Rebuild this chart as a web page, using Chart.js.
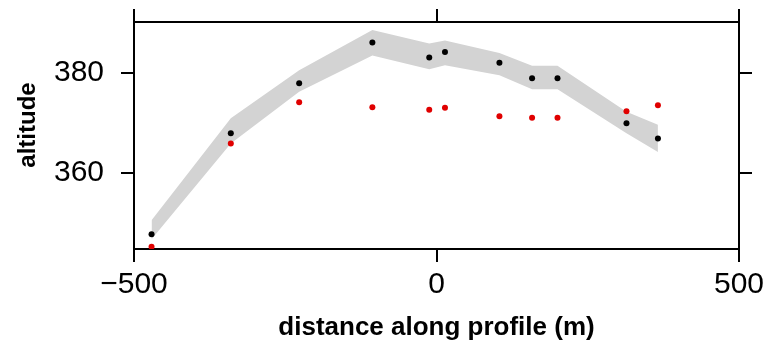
<!DOCTYPE html>
<html>
<head>
<meta charset="utf-8">
<script src="https://cdn.jsdelivr.net/npm/chart.js@4.4.1/dist/chart.umd.min.js"></script>
<style>
  html, body { margin: 0; padding: 0; background: #fff; }
</style>
</head>
<body>
<canvas id="chart" width="768" height="347"></canvas>
<script>
// distancia ao longo do perfil (m) e altitudes
const distance = [-471, -340, -227, -106, -12, 14, 104, 158, 200, 314, 366];
const altBlack = [347.8, 367.9, 377.9, 386.0, 383.0, 384.1, 382.0, 378.9, 378.9, 369.9, 366.9];
const altRed = [345.3, 365.9, 374.1, 373.1, 372.6, 373.0, 371.3, 371.0, 371.0, 372.3, 373.5];
const bandTop = [350.6, 370.9, 380.5, 388.5, 385.8, 386.4, 383.9, 381.4, 381.4, 372.2, 369.6];
const bandBottom = [346.8, 365.9, 376.2, 383.4, 380.7, 381.5, 379.5, 376.7, 376.7, 367.9, 364.2];
const xTicks = [-500, 0, 500];
const yTicks = [360, 380];

const FONT = "'Liberation Sans', Arial, sans-serif";

function pts(ys) {
    return distance.map((d, i) => ({ x: d, y: ys[i] }));
}

// tamanho fixo do eixo, sem padding extra dos rotulos
function fixedSize(size) {
    return function (scale) {
        if (scale.isHorizontal()) scale.height = size;
        else scale.width = size;
        scale.paddingLeft = 0;
        scale.paddingRight = 0;
        scale.paddingTop = 0;
        scale.paddingBottom = 0;
    };
}

function setTicks(values) {
    return function (scale) {
        scale.ticks = values.map(v => ({ value: v }));
    };
}

// sinal de menos de verdade, como no original
const minusLabel = v => String(v).replace('-', '\u2212');

// titulo do eixo y desenhado a mao (fica um pouco acima do centro)
const yTitlePlugin = {
    id: 'yTitle',
    afterDraw(chart) {
        const ctx = chart.ctx;
        ctx.save();
        ctx.translate(28, 125);
        ctx.rotate(-Math.PI / 2);
        ctx.font = 'bold 24px ' + FONT;
        ctx.fillStyle = '#000';
        ctx.textAlign = 'center';
        ctx.textBaseline = 'middle';
        ctx.fillText('altitude', 0, 0);
        ctx.restore();
    }
};

const gridOpts = { drawOnChartArea: false, drawTicks: true, tickLength: 13, color: '#000', lineWidth: 2 };
const borderOpts = { display: true, color: '#000', width: 2 };

new Chart(document.getElementById('chart'), {
    type: 'line',
    data: {
        datasets: [
            {
                label: 'black',
                data: pts(altBlack),
                showLine: false,
                pointRadius: 3,
                pointBackgroundColor: '#000',
                pointBorderWidth: 0
            },
            {
                label: 'red',
                data: pts(altRed),
                showLine: false,
                pointRadius: 3,
                pointBackgroundColor: '#e00000',
                pointBorderWidth: 0
            },
            {
                label: 'band bottom',
                data: pts(bandBottom),
                borderWidth: 0,
                pointRadius: 0,
                fill: false
            },
            {
                label: 'band top',
                data: pts(bandTop),
                borderWidth: 0,
                pointRadius: 0,
                backgroundColor: '#d3d3d3',
                fill: '-1'
            }
        ]
    },
    options: {
        responsive: false,
        devicePixelRatio: 1,
        animation: false,
        layout: { padding: 0 },
        plugins: { legend: { display: false }, tooltip: { enabled: false } },
        elements: { line: { tension: 0 } },
        scales: {
            x: {
                type: 'linear',
                position: 'bottom',
                min: -500,
                max: 500,
                afterBuildTicks: setTicks(xTicks),
                afterFit: fixedSize(98),
                grid: gridOpts,
                border: borderOpts,
                ticks: {
                    color: '#000', padding: 5, maxRotation: 0,
                    font: { family: FONT, size: 30 },
                    callback: minusLabel
                },
                title: {
                    display: true,
                    text: 'distance along profile (m)',
                    color: '#000',
                    padding: { top: 0, bottom: 4 },
                    font: { family: FONT, size: 26, weight: 'bold' }
                }
            },
            xTop: {
                type: 'linear',
                position: 'top',
                min: -500,
                max: 500,
                afterBuildTicks: setTicks(xTicks),
                afterFit: fixedSize(22),
                grid: gridOpts,
                border: borderOpts,
                ticks: { display: false }
            },
            y: {
                type: 'linear',
                position: 'left',
                min: 344.85,
                max: 390.1,
                afterBuildTicks: setTicks(yTicks),
                afterFit: fixedSize(134),
                grid: gridOpts,
                border: borderOpts,
                ticks: { color: '#000', padding: 17, font: { family: FONT, size: 30 } }
            },
            yRight: {
                type: 'linear',
                position: 'right',
                min: 344.85,
                max: 390.1,
                afterBuildTicks: setTicks(yTicks),
                afterFit: fixedSize(29),
                grid: gridOpts,
                border: borderOpts,
                ticks: { display: false }
            }
        }
    },
    plugins: [yTitlePlugin]
});
</script>
</body>
</html>
